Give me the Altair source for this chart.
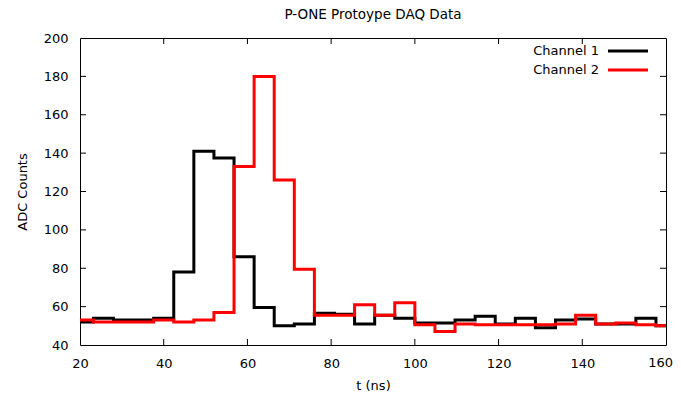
import altair as alt
import pandas as pd

# bin start times (ns), each bin 4.8 ns wide; last entry is the final right edge
t_edges = [18.4, 23.2, 28.0, 32.8, 37.6, 42.4, 47.2, 52.0, 56.8, 61.6,
           66.4, 71.2, 76.0, 80.8, 85.6, 90.4, 95.2, 100.0, 104.8, 109.6,
           114.4, 119.2, 124.0, 128.8, 133.6, 138.4, 143.2, 148.0, 152.8, 157.6,
           162.4]
ch1 = [52, 54, 53, 53, 54, 78, 141, 137.5, 86, 59.5,
       50, 51, 56.5, 56, 51, 55.5, 54, 51.5, 51.5, 53,
       55, 51, 54, 49, 53, 53.5, 51, 51, 54, 50]
ch2 = [53, 52, 52, 52, 53, 52, 53, 57, 133, 180,
       126, 79.5, 55.5, 55.5, 61, 55.5, 62, 50.5, 47, 51,
       50.5, 50.5, 50.5, 50.5, 51, 55.5, 51, 51.5, 50.5, 50]
series = ["Channel 1", "Channel 2"]
colors = ["#000000", "#ff0000"]
x_ticks = [20, 40, 60, 80, 100, 120, 140, 160]
y_ticks = [40, 60, 80, 100, 120, 140, 160, 180, 200]

rows = []
for name, vals in zip(series, [ch1, ch2]):
    for i, v in enumerate(vals):
        rows.append({"t": t_edges[i], "v": v, "s": name, "o": i})
    rows.append({"t": t_edges[-1], "v": vals[-1], "s": name, "o": len(vals)})
df = pd.DataFrame(rows)

W, H = 586, 307
FONT = "DejaVu Sans"
xs = alt.Scale(domain=[20, 160], nice=False, zero=False)
ys = alt.Scale(domain=[40, 200], nice=False, zero=False)
cs = alt.Scale(domain=series, range=colors)
last_x = x_ticks[-1]
xaxis = alt.Axis(values=x_ticks, tickSize=0, labelPadding=12, domain=False, grid=False,
                 titlePadding=9, labelFlush=False, labelOverlap=False,
                 labelExpr=f"datum.value == {last_x} ? '' : datum.label")
yaxis = alt.Axis(values=y_ticks, tickSize=0, labelPadding=12, domain=False, grid=False,
                 titlePadding=14, labelFlush=False, labelOverlap=False)
XT, YT = "t (ns)", "ADC Counts"

lines = alt.Chart(df).mark_line(interpolate="step-after", strokeWidth=3, clip=True).encode(
    x=alt.X("t:Q", scale=xs, title=XT, axis=xaxis),
    y=alt.Y("v:Q", scale=ys, title=YT, axis=yaxis),
    color=alt.Color("s:N", scale=cs, legend=None),
    order="o:Q",
    detail="s:N",
)

TL = 6
xt = pd.DataFrame({"t": x_ticks[1:-1]})
yt = pd.DataFrame({"v": y_ticks[1:-1]})
xb = alt.Chart(xt).mark_rule(color="#000", strokeWidth=1).encode(
    x=alt.X("t:Q", scale=xs, title=XT, axis=xaxis), y=alt.value(H), y2=alt.value(H - TL))
xtp = alt.Chart(xt).mark_rule(color="#000", strokeWidth=1).encode(
    x=alt.X("t:Q", scale=xs, title=XT, axis=xaxis), y=alt.value(0), y2=alt.value(TL))
yl = alt.Chart(yt).mark_rule(color="#000", strokeWidth=1).encode(
    y=alt.Y("v:Q", scale=ys, title=YT, axis=yaxis), x=alt.value(0), x2=alt.value(TL))
yr = alt.Chart(yt).mark_rule(color="#000", strokeWidth=1).encode(
    y=alt.Y("v:Q", scale=ys, title=YT, axis=yaxis), x=alt.value(W), x2=alt.value(W - TL))

# last x tick label, kept inside the canvas
lastlab = alt.Chart(pd.DataFrame({"t": [last_x], "lab": [str(last_x)]})).mark_text(
    align="right", baseline="top", dx=7, font=FONT, fontSize=13, color="#000").encode(
    x=alt.X("t:Q", scale=xs, title=XT, axis=xaxis), y=alt.value(H + 12), text="lab:N")

legend_layers = []
for i, (name, col) in enumerate(zip(series, colors)):
    ly = 13 + 19 * i
    d = pd.DataFrame({"s": [name]})
    legend_layers.append(alt.Chart(d).mark_text(align="right", baseline="middle", font=FONT,
                                                fontSize=13, color="#000").encode(
        text="s:N", x=alt.value(519), y=alt.value(ly)))
    legend_layers.append(alt.Chart(d).mark_rule(strokeWidth=3, color=col).encode(
        x=alt.value(528), x2=alt.value(568), y=alt.value(ly)))

chart = alt.layer(lines, xb, xtp, yl, yr, lastlab, *legend_layers).properties(
    width=W, height=H,
    title=alt.TitleParams("P-ONE Protoype DAQ Data", font=FONT, fontSize=13.5, fontWeight="normal",
                          anchor="middle", offset=11, color="#000"),
    padding={"left": 72, "top": 30, "right": 7, "bottom": 46},
    autosize=alt.AutoSizeParams(type="none"),
    background="white",
).configure_view(stroke="#000", strokeWidth=1).configure_axis(
    labelFont=FONT, labelFontSize=13, labelColor="#000", titleFont=FONT, titleFontSize=13,
    titleFontWeight="normal", titleColor="#000",
)

chart.save("out.html", embed_options={"renderer": "svg", "actions": False})
